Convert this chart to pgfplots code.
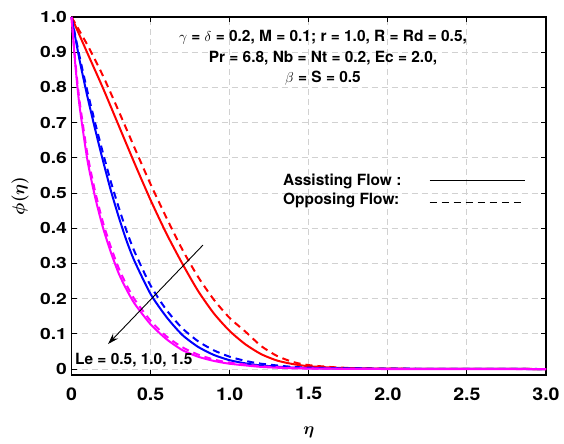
\documentclass[border=0pt]{standalone}
\usepackage{fontspec}
\setmainfont{TeX Gyre Heros}
\usepackage{pgfplots}
\pgfplotsset{compat=1.18}
\usetikzlibrary{arrows.meta}
\definecolor{mred}{rgb}{1,0,0}
\definecolor{mblue}{rgb}{0,0,1}
\definecolor{mmag}{rgb}{1,0,1}
\newcommand{\yt}[1]{\scalebox{1.25}[1]{#1}}
\newcommand{\xt}[1]{\scalebox{1.12}[1]{#1}}
\begin{document}
\begin{tikzpicture}
\begin{axis}[
  width=474.5bp, height=358bp, scale only axis,
  xmin=0, xmax=3, ymin=-0.017, ymax=1,
  xtick={0,0.5,1,1.5,2,2.5,3},
  xticklabels={\xt{0},\xt{0.5},\xt{1.0},\xt{1.5},\xt{2.0},\xt{2.5},\xt{3.0}},
  ytick={0,0.1,0.2,0.3,0.4,0.5,0.6,0.7,0.8,0.9,1.0},
  yticklabels={\yt{0},\yt{0.1},\yt{0.2},\yt{0.3},\yt{0.4},\yt{0.5},\yt{0.6},\yt{0.7},\yt{0.8},\yt{0.9},\yt{1.0}},
  xticklabel style={font=\fontsize{17.5}{20}\selectfont\bfseries, yshift=-9bp},
  yticklabel style={font=\fontsize{15.5}{18}\selectfont\bfseries, xshift=-1bp},
  tick align=inside, major tick length=5bp,
  tick style={line width=1bp, black},
  grid=major, grid style={black!18, dash pattern=on 6bp off 4bp, line width=0.9bp},
  axis line style={line width=1.2bp},
  xlabel={$\eta$}, ylabel={$\phi(\eta)$},
  label style={font=\fontsize{17.5}{20}\selectfont\boldmath},
  xlabel style={at={(axis description cs:0.5,-0.159)}, anchor=center},
  ylabel style={at={(axis description cs:-0.1085,0.5)}, anchor=center},
  clip=false,
  every axis plot/.append style={line width=2bp, smooth, tension=0.4},
]
\coordinate (ll) at (rel axis cs:0,0);
\coordinate (ur) at (rel axis cs:1,1);
% Le = 0.5
\addplot[mred] coordinates {(0,1) (0.1,0.898) (0.2,0.797) (0.3,0.690) (0.4,0.583) (0.5,0.480) (0.6,0.385) (0.7,0.300) (0.8,0.222) (0.9,0.158) (1.0,0.108) (1.1,0.070) (1.2,0.042) (1.3,0.024) (1.4,0.014) (1.5,0.008) (1.7,0.003) (2.0,0.001) (2.5,0.0003) (3.0,0)};
\addplot[mred, dash pattern=on 7bp off 5bp] coordinates {(0,1) (0.1,0.921) (0.2,0.832) (0.3,0.731) (0.4,0.627) (0.5,0.525) (0.6,0.430) (0.7,0.340) (0.8,0.262) (0.9,0.197) (1.0,0.145) (1.1,0.106) (1.2,0.065) (1.3,0.037) (1.4,0.020) (1.5,0.011) (1.7,0.004) (2.0,0.001) (2.5,0.0003) (3.0,0)};
% Le = 1.0
\addplot[mblue] coordinates {(0,1) (0.05,0.880) (0.1,0.775) (0.15,0.680) (0.2,0.590) (0.25,0.505) (0.3,0.430) (0.35,0.362) (0.4,0.305) (0.5,0.213) (0.6,0.148) (0.7,0.097) (0.8,0.063) (0.9,0.040) (1.0,0.025) (1.1,0.016) (1.2,0.010) (1.4,0.004) (1.6,0.002) (2.0,0.0005) (3.0,0)};
\addplot[mblue, dash pattern=on 7bp off 5bp] coordinates {(0,1) (0.05,0.890) (0.1,0.790) (0.15,0.698) (0.2,0.612) (0.25,0.530) (0.3,0.457) (0.35,0.390) (0.4,0.332) (0.5,0.237) (0.6,0.168) (0.7,0.116) (0.8,0.079) (0.9,0.053) (1.0,0.035) (1.1,0.023) (1.2,0.015) (1.4,0.006) (1.6,0.003) (2.0,0.001) (3.0,0)};
% Le = 1.5
\addplot[mmag] coordinates {(0,1) (0.025,0.86) (0.05,0.75) (0.1,0.595) (0.15,0.487) (0.2,0.400) (0.25,0.330) (0.3,0.270) (0.35,0.224) (0.4,0.185) (0.5,0.127) (0.6,0.085) (0.7,0.054) (0.8,0.035) (0.9,0.023) (1.0,0.015) (1.2,0.006) (1.4,0.002) (1.6,0.001) (2.0,0) (3.0,0)};
\addplot[mmag, dash pattern=on 7bp off 5bp] coordinates {(0,1) (0.025,0.87) (0.05,0.765) (0.1,0.612) (0.15,0.503) (0.2,0.415) (0.25,0.345) (0.3,0.285) (0.35,0.237) (0.4,0.197) (0.5,0.137) (0.6,0.093) (0.7,0.062) (0.8,0.041) (0.9,0.027) (1.0,0.018) (1.2,0.008) (1.4,0.003) (1.6,0.001) (2.0,0.0003) (3.0,0)};
% annotations
\node[font=\fontsize{15.5}{20.5}\selectfont\bfseries, align=center] at (axis cs:1.59,0.884)
  {$\gamma$ = $\delta$ = 0.2, M = 0.1; r = 1.0, R = Rd = 0.5,\\ Pr = 6.8, Nb = Nt = 0.2, Ec = 2.0,\\ $\beta$ = S = 0.5};
\node[font=\fontsize{15.5}{19}\selectfont\bfseries, anchor=west, inner sep=0pt] at (axis cs:1.337,0.532) {Assisting Flow :};
\node[font=\fontsize{15.5}{19}\selectfont\bfseries, anchor=west, inner sep=0pt] at (axis cs:1.337,0.478) {Opposing Flow:};
\draw[line width=1.2bp] (axis cs:2.265,0.535) -- (axis cs:2.865,0.535);
\draw[line width=1.2bp, dash pattern=on 7bp off 5bp] (axis cs:2.265,0.474) -- (axis cs:2.865,0.474);
\draw[line width=0.9bp, -{Stealth[length=11bp,width=7bp]}] (axis cs:0.831,0.352) -- (axis cs:0.231,0.071);
\node[font=\fontsize{15.5}{19}\selectfont\bfseries, anchor=west, inner sep=0pt] at (axis cs:0.022,0.026) {Le = 0.5, 1.0, 1.5};
\end{axis}
\pgfresetboundingbox
\path ([shift={(-71.5bp,-69bp)}]ll) rectangle ([shift={(18bp,17bp)}]ur);
\end{tikzpicture}
\end{document}
